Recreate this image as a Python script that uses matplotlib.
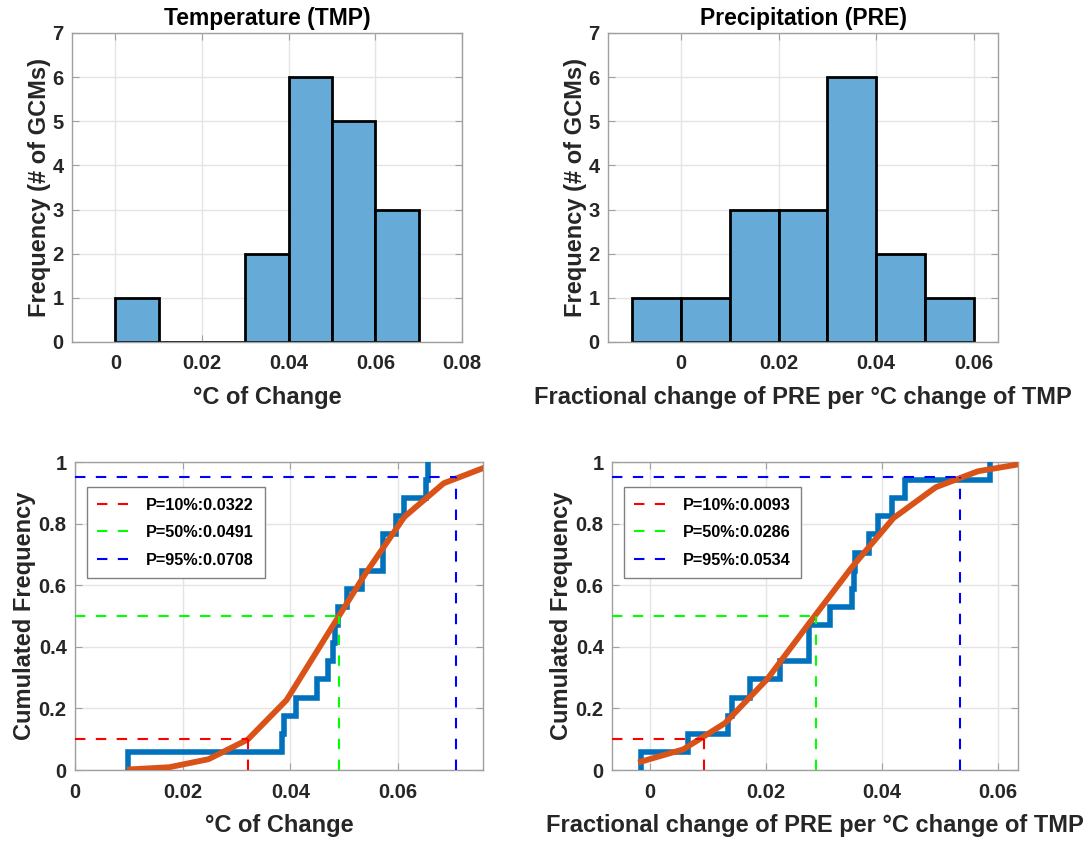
import numpy as np
import matplotlib
matplotlib.use('Agg')
import matplotlib.pyplot as plt

# sorted GCM values (17 models)
tmp_vals = [0.0098, 0.0385, 0.0389, 0.0410, 0.0450, 0.0470, 0.0480, 0.0483,
            0.0489, 0.0505, 0.0534, 0.0573, 0.0573, 0.0596, 0.0612, 0.0652, 0.0656]
pre_vals = [-0.0016, 0.0066, 0.0135, 0.0141, 0.0173, 0.0224, 0.0274, 0.0274,
            0.0311, 0.0349, 0.0351, 0.0353, 0.0377, 0.0394, 0.0417, 0.0440, 0.0587]

# histogram bin edges
tmp_edges = [0.0, 0.01, 0.02, 0.03, 0.04, 0.05, 0.06, 0.07]
pre_edges = [-0.01, 0.0, 0.01, 0.02, 0.03, 0.04, 0.05, 0.06]

# fitted cdf (orange curve)
tmp_fit_x = [0.0102, 0.0175, 0.0248, 0.0321, 0.0393, 0.0466, 0.0539, 0.0612, 0.0685, 0.0758]
tmp_fit_y = [0.002, 0.009, 0.035, 0.099, 0.227, 0.432, 0.636, 0.822, 0.931, 0.980]
pre_fit_x = [-0.0016, 0.0057, 0.0129, 0.0202, 0.0275, 0.0348, 0.0420, 0.0493, 0.0566, 0.0638]
pre_fit_y = [0.027, 0.067, 0.152, 0.295, 0.478, 0.658, 0.818, 0.918, 0.970, 0.993]

# percentiles
probs = [0.10, 0.50, 0.95]
tmp_pct = [0.0322, 0.0491, 0.0708]
pre_pct = [0.0093, 0.0286, 0.0534]

plt.rcParams['font.family'] = ['Liberation Sans', 'DejaVu Sans']
plt.rcParams['font.weight'] = 'bold'

fig = plt.figure(figsize=(10.92, 8.41), dpi=100)
W, H = 1092., 841.
def axpos(l, t, r, b):
    return fig.add_axes([l/W, 1-b/H, (r-l)/W, (b-t)/H])

ax_tl = axpos(72, 33, 462, 342)
ax_tr = axpos(608, 33, 998, 342)
ax_bl = axpos(75, 462, 483, 770)
ax_br = axpos(612, 462, 1018, 770)

barc = '#66aad7'
spc = '#a0a0a0'
txtc = '#262626'
lab_fs = 17
tick_fs = 14.5

def style(ax):
    for s in ax.spines.values():
        s.set_color(spc)
        s.set_linewidth(1.0)
    ax.tick_params(direction='in', length=5, width=0.8, color=spc, labelsize=tick_fs,
                   labelcolor=txtc, top=True, right=True)
    ax.tick_params(axis='x', pad=9)
    ax.tick_params(axis='y', pad=6)
    ax.grid(True, color='#e4e4e4', linewidth=1.0)
    ax.set_axisbelow(True)
    for lab in ax.get_xticklabels() + ax.get_yticklabels():
        lab.set_fontweight('bold')

# histograms
ax_tl.hist(tmp_vals, bins=tmp_edges, color=barc, edgecolor='black', linewidth=2)
ax_tl.set_xlim(-0.01, 0.08)
ax_tl.set_xticks([0, 0.02, 0.04, 0.06, 0.08])
ax_tl.set_xticklabels(['0', '0.02', '0.04', '0.06', '0.08'])
ax_tl.set_title('Temperature (TMP)', fontsize=16.5, fontweight='bold', pad=6)
ax_tl.set_xlabel('°C of Change', fontsize=lab_fs, fontweight='bold', color=txtc, labelpad=9)

ax_tr.hist(pre_vals, bins=pre_edges, color=barc, edgecolor='black', linewidth=2)
ax_tr.set_xlim(-0.015, 0.065)
ax_tr.set_xticks([0, 0.02, 0.04, 0.06])
ax_tr.set_xticklabels(['0', '0.02', '0.04', '0.06'])
ax_tr.set_title('Precipitation (PRE)', fontsize=16.5, fontweight='bold', pad=6)
ax_tr.set_xlabel('Fractional change of PRE per °C change of TMP', fontsize=lab_fs,
                 fontweight='bold', color=txtc, labelpad=9)

for ax in (ax_tl, ax_tr):
    ax.set_ylim(0, 7)
    ax.set_yticks(range(8))
    ax.set_ylabel('Frequency (# of GCMs)', fontsize=lab_fs, fontweight='bold', color=txtc,
                  labelpad=1)
    style(ax)

# cdf panels
pcols = ['#ff0000', '#00ff00', '#0000ff']
def cdf_panel(ax, vals, fx, fy, pct, xlim, xlabel):
    v = np.sort(vals)
    n = len(v)
    xs = np.repeat(v, 2)
    ys = np.repeat(np.arange(n + 1) / n, 2)[1:-1]
    ax.plot(xs, ys, color='#0072bd', linewidth=4, solid_joinstyle='miter', zorder=3)
    ax.plot(fx, fy, color='#d95319', linewidth=4.2, zorder=4)
    for p, q, c in zip(probs, pct, pcols):
        ax.plot([xlim[0], q], [p, p], color=c, linewidth=1.5, linestyle=(0, (5, 5)),
                label=f'P={int(p*100)}%:{q:.4f}', zorder=5)
        ax.plot([q, q], [0, p], color=c, linewidth=1.5, linestyle=(0, (5, 5)), zorder=5)
    ax.set_xlim(*xlim)
    ax.set_ylim(0, 1)
    ax.set_xticks([0, 0.02, 0.04, 0.06])
    ax.set_xticklabels(['0', '0.02', '0.04', '0.06'])
    ax.set_yticks([0, 0.2, 0.4, 0.6, 0.8, 1])
    ax.set_yticklabels(['0', '0.2', '0.4', '0.6', '0.8', '1'])
    ax.set_xlabel(xlabel, fontsize=lab_fs, fontweight='bold', color=txtc, labelpad=9)
    ax.set_ylabel('Cumulated Frequency', fontsize=lab_fs, fontweight='bold', color=txtc,
                  labelpad=2)
    style(ax)
    leg = ax.legend(loc='upper left', bbox_to_anchor=(0.029, 0.919), fancybox=False,
                    framealpha=1, edgecolor='#808080', prop={'size': 11.7, 'weight': 'bold'},
                    handlelength=1.9, handletextpad=1.1, borderpad=0.65, labelspacing=0.78,
                    borderaxespad=0)
    leg.get_frame().set_linewidth(1.0)

cdf_panel(ax_bl, tmp_vals, tmp_fit_x, tmp_fit_y, tmp_pct, (0, 0.0758), '°C of Change')
cdf_panel(ax_br, pre_vals, pre_fit_x, pre_fit_y, pre_pct, (-0.0066, 0.0635),
          'Fractional change of PRE per °C change of TMP')

fig.savefig('out.png', dpi=100)
